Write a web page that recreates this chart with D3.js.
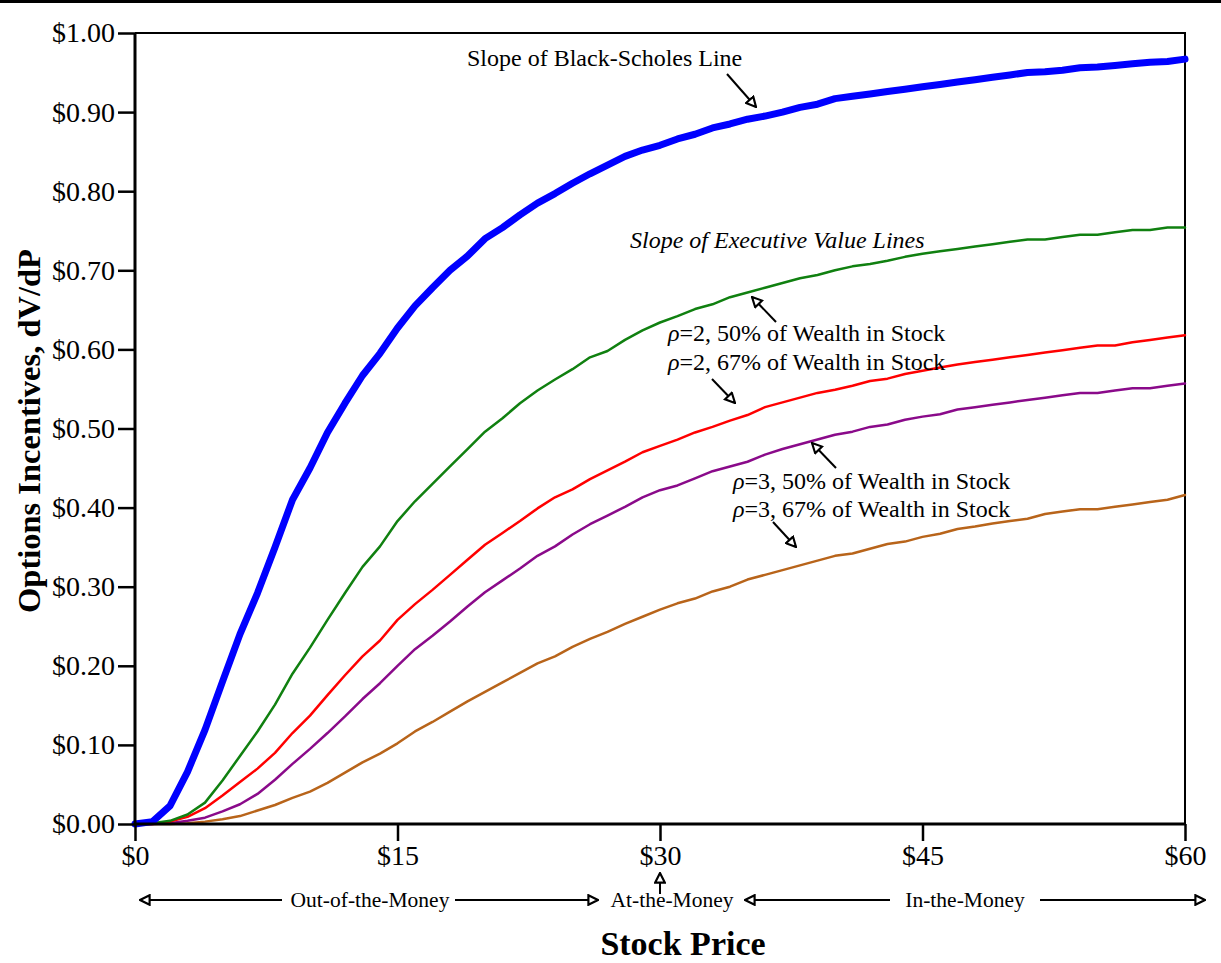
<!DOCTYPE html>
<html><head><meta charset="utf-8">
<script src="https://cdn.jsdelivr.net/npm/d3@7"></script>
<style>body{margin:0;background:#fff}svg{display:block}text{font-family:"Liberation Serif","Times New Roman",serif}</style>
</head><body>
<svg id="c" width="1221" height="963"></svg>
<script>
const stockPrices = d3.range(0, 61);
const blackScholes = [0,0.003,0.023,0.066,0.119,0.18,0.24,0.292,0.35,0.41,0.45,0.495,0.532,0.567,0.595,0.627,0.655,0.678,0.70,0.718,0.74,0.754,0.77,0.785,0.797,0.81,0.822,0.833,0.844,0.852,0.858,0.866,0.872,0.88,0.885,0.891,0.895,0.90,0.906,0.91,0.917,0.92,0.923,0.926,0.929,0.932,0.935,0.938,0.941,0.944,0.947,0.95,0.951,0.953,0.956,0.957,0.959,0.961,0.963,0.964,0.967];
const rho2w50 = [0,0.001,0.004,0.012,0.027,0.055,0.086,0.117,0.151,0.19,0.223,0.258,0.292,0.325,0.351,0.383,0.408,0.43,0.452,0.474,0.496,0.513,0.532,0.548,0.562,0.575,0.59,0.598,0.612,0.624,0.634,0.642,0.651,0.657,0.666,0.672,0.678,0.684,0.69,0.694,0.70,0.705,0.708,0.712,0.717,0.721,0.724,0.727,0.73,0.733,0.736,0.739,0.739,0.742,0.745,0.745,0.748,0.751,0.751,0.754,0.754];
const rho2w67 = [0,0,0.003,0.009,0.02,0.036,0.053,0.07,0.09,0.115,0.137,0.163,0.188,0.212,0.232,0.258,0.278,0.296,0.315,0.334,0.353,0.368,0.383,0.399,0.413,0.423,0.436,0.447,0.458,0.47,0.478,0.486,0.495,0.502,0.51,0.517,0.527,0.533,0.539,0.545,0.549,0.554,0.56,0.563,0.569,0.573,0.577,0.581,0.584,0.587,0.59,0.593,0.596,0.599,0.602,0.605,0.605,0.609,0.612,0.615,0.618];
const rho3w50 = [0,0,0.001,0.004,0.008,0.016,0.025,0.038,0.056,0.076,0.095,0.115,0.136,0.158,0.178,0.2,0.221,0.238,0.256,0.275,0.293,0.308,0.323,0.339,0.351,0.366,0.379,0.39,0.401,0.413,0.422,0.428,0.437,0.446,0.452,0.458,0.467,0.474,0.48,0.486,0.492,0.496,0.502,0.505,0.511,0.515,0.518,0.524,0.527,0.53,0.533,0.536,0.539,0.542,0.545,0.545,0.548,0.551,0.551,0.554,0.557];
const rho3w67 = [0,0,0,0.001,0.003,0.006,0.01,0.017,0.024,0.033,0.041,0.052,0.065,0.078,0.089,0.102,0.117,0.129,0.142,0.155,0.167,0.179,0.191,0.203,0.212,0.224,0.234,0.243,0.253,0.262,0.271,0.279,0.285,0.294,0.30,0.309,0.315,0.321,0.327,0.333,0.339,0.342,0.348,0.354,0.357,0.363,0.367,0.373,0.376,0.38,0.383,0.386,0.392,0.395,0.398,0.398,0.401,0.404,0.407,0.41,0.416];
const xTicks = [0, 15, 30, 45, 60];
const yTicks = [0,0.1,0.2,0.3,0.4,0.5,0.6,0.7,0.8,0.9,1.0];

const svg = d3.select("#c");
const L = 135, R = 1185, T = 33, B = 824;
const x = d3.scaleLinear().domain([0, 60]).range([L, R]);
const y = d3.scaleLinear().domain([0, 1]).range([B, T]);

// page top rule
svg.append("line").attr("x1",0).attr("x2",1221).attr("y1",1.5).attr("y2",1.5).attr("stroke","#000").attr("stroke-width",3);

// frame top & right
svg.append("path").attr("d",`M${L},${T}H${R}V${B}`).attr("fill","none").attr("stroke","#000").attr("stroke-width",2);

const series = [
  {v: rho3w67, c: "#b8641a", w: 2.5},
  {v: rho3w50, c: "#8a0a8a", w: 2.5},
  {v: rho2w67, c: "#ff0000", w: 2.5},
  {v: rho2w50, c: "#108010", w: 2.5},
  {v: blackScholes, c: "#0000ff", w: 7}
];
const line = d3.line().x((d,i)=>x(stockPrices[i])).y(d=>y(d));
series.forEach(s=>{
  svg.append("path").datum(s.v).attr("d",line).attr("fill","none")
    .attr("stroke",s.c).attr("stroke-width",s.w).attr("stroke-linejoin","round").attr("stroke-linecap","round");
});

// axes
const yAxis = svg.append("g").attr("transform",`translate(${L},0)`)
  .call(d3.axisLeft(y).tickValues(yTicks).tickFormat(d=>"$"+d.toFixed(2)).tickSize(17).tickPadding(3));
const xAxis = svg.append("g").attr("transform",`translate(0,${B})`)
  .call(d3.axisBottom(x).tickValues(xTicks).tickFormat(d=>"$"+d).tickSize(17).tickPadding(4));
[yAxis,xAxis].forEach(g=>{
  g.select(".domain").attr("stroke-width",3);
  g.selectAll(".tick line").attr("stroke-width",2.5);
  g.selectAll(".tick text").attr("font-family","'Liberation Serif',serif").attr("font-size",28).attr("fill","#000");
});
xAxis.select(".domain").attr("d",`M${L},0H${R}`);
yAxis.select(".domain").attr("d",`M0,${B}V${T}`);

// axis titles
svg.append("text").attr("transform","translate(40,431) rotate(-90)").attr("text-anchor","middle")
  .attr("font-size",32.5).attr("font-weight","bold").text("Options Incentives, dV/dP");
svg.append("text").attr("x",683).attr("y",955).attr("text-anchor","middle")
  .attr("font-size",34).attr("font-weight","bold").text("Stock Price");

// arrow marker (open triangle)
const defs = svg.append("defs");
defs.append("marker").attr("id","ah").attr("viewBox","0 0 10 10").attr("refX",9).attr("refY",5)
  .attr("markerWidth",12).attr("markerHeight",12).attr("markerUnits","userSpaceOnUse").attr("orient","auto")
  .append("path").attr("d","M1,1L9,5L1,9Z").attr("fill","#fff").attr("stroke","#000").attr("stroke-width",1.8);

function arrow(x1,y1,x2,y2){
  svg.append("line").attr("x1",x1).attr("y1",y1).attr("x2",x2).attr("y2",y2)
    .attr("stroke","#000").attr("stroke-width",2).attr("marker-end","url(#ah)");
}

// money regions
const regY = 900;
svg.append("text").attr("x",370).attr("y",regY+7).attr("text-anchor","middle").attr("font-size",21.5).text("Out-of-the-Money");
svg.append("text").attr("x",672).attr("y",regY+7).attr("text-anchor","middle").attr("font-size",21.5).text("At-the-Money");
svg.append("text").attr("x",965).attr("y",regY+7).attr("text-anchor","middle").attr("font-size",21.5).text("In-the-Money");
arrow(282,regY,140,regY);
arrow(455,regY,598,regY);
arrow(890,regY,745,regY);
arrow(1040,regY,1205,regY);
arrow(x(30),regY-6,x(30),873);

// annotations
svg.append("text").attr("x",467).attr("y",66).attr("font-size",24).text("Slope of Black-Scholes Line");
arrow(727,74,756,107);
svg.append("text").attr("x",630).attr("y",248).attr("font-size",24).attr("font-style","italic").text("Slope of Executive Value Lines");

function rhoLabel(xp,yp,r,pct){
  const t = svg.append("text").attr("x",xp).attr("y",yp).attr("font-size",24);
  t.append("tspan").attr("font-style","italic").text("ρ");
  t.append("tspan").text(`=${r}, ${pct}% of Wealth in Stock`);
}
rhoLabel(668,341,2,50);
rhoLabel(668,370,2,67);
rhoLabel(733,489,3,50);
rhoLabel(733,517,3,67);
arrow(776,322,752,297);
arrow(712,379,735,403);
arrow(836,468,812,443);
arrow(773,522,796,547);
</script>
</body></html>
